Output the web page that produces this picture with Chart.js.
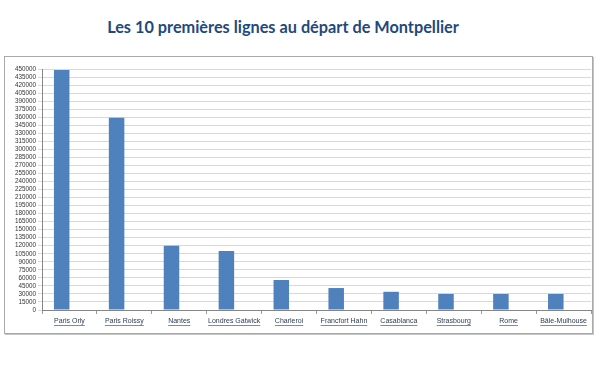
<!DOCTYPE html>
<html lang="fr">
<head>
    <meta charset="UTF-8">
    <title>Les 10 premières lignes au départ de Montpellier</title>
    <script src="https://cdn.jsdelivr.net/npm/chart.js"></script>
    <style>
        body {
            margin: 0;
            background: #fff;
        }
        .titre {
            position: absolute;
            left: 0;
            top: 17px;
            width: 566px;
            text-align: center;
            font: bold 16.3px Lato, sans-serif;
            color: #1f497d;
        }
        .cadre {
            position: absolute;
            left: 4px;
            top: 56px;
            width: 587px;
            height: 276px;
            border: 1px solid #a9a9a9;
            box-shadow: 1px 1px 0 #c4c4c4;
        }
    </style>
</head>
<body>
    <div class="titre">Les 10 premières lignes au départ de Montpellier</div>
    <div class="cadre">
        <canvas id="lignes"></canvas>
    </div>

    <script>
        const destinations = ['Paris Orly', 'Paris Roissy', 'Nantes', 'Londres Gatwick', 'Charleroi',
            'Francfort Hahn', 'Casablanca', 'Strasbourg', 'Rome', 'Bâle-Mulhouse'];
        const passagers = [448000, 359000, 120000, 110000, 56000, 41000, 34000, 30000, 30000, 30000];
        // second series is empty in the original sheet, it only takes the right half of each slot
        const serieVide = [];

        const yMax = 450000;
        const yPas = 15000;

        const labelFont = { family: 'Liberation Sans', size: 7 };

        // underline the category labels like the original
        const souligne = {
            id: 'souligne',
            afterDraw(chart) {
                const x = chart.scales.x;
                const ctx = chart.ctx;
                ctx.save();
                ctx.font = labelFont.size + 'px ' + labelFont.family;
                ctx.strokeStyle = '#2d3b55';
                ctx.lineWidth = 0.6;
                const y = x.top + 7 + labelFont.size + 1.5;
                x.ticks.forEach((t, i) => {
                    const cx = x.getPixelForTick(i);
                    const w = ctx.measureText(destinations[i]).width;
                    ctx.beginPath();
                    ctx.moveTo(cx - w / 2, y);
                    ctx.lineTo(cx + w / 2, y);
                    ctx.stroke();
                });
                ctx.restore();
            }
        };

        new Chart(document.getElementById('lignes').getContext('2d'), {
            type: 'bar',
            data: {
                labels: destinations,
                datasets: [{
                    label: 'Passagers',
                    data: passagers,
                    backgroundColor: '#4f81bd',
                    borderWidth: 0
                }, {
                    label: '',
                    data: serieVide,
                    backgroundColor: '#c0504d'
                }]
            },
            options: {
                responsive: true,
                maintainAspectRatio: false,
                animation: false,
                layout: { padding: { top: 12, right: 1, left: 0, bottom: 0 } },
                datasets: { bar: { barPercentage: 1, categoryPercentage: 0.565 } },
                plugins: {
                    legend: { display: false },
                    tooltip: { enabled: false }
                },
                scales: {
                    x: {
                        grid: {
                            offset: true,
                            drawOnChartArea: false,
                            tickLength: 4,
                            color: '#9a9a9a'
                        },
                        border: { color: '#868686' },
                        ticks: {
                            font: labelFont,
                            color: '#2d3b55',
                            maxRotation: 0,
                            autoSkip: false,
                            padding: 3
                        },
                        afterFit(scale) { scale.height = 23; }
                    },
                    y: {
                        min: 0,
                        max: yMax,
                        grid: {
                            color: '#d9d9d9',
                            tickLength: 4
                        },
                        border: { color: '#868686' },
                        ticks: {
                            stepSize: yPas,
                            autoSkip: false,
                            font: { family: 'Liberation Sans', size: 6.3 },
                            color: '#333',
                            padding: 2,
                            callback: v => String(v)
                        },
                        afterFit(scale) { scale.width = 37; }
                    }
                }
            },
            plugins: [souligne]
        });
    </script>
</body>
</html>
